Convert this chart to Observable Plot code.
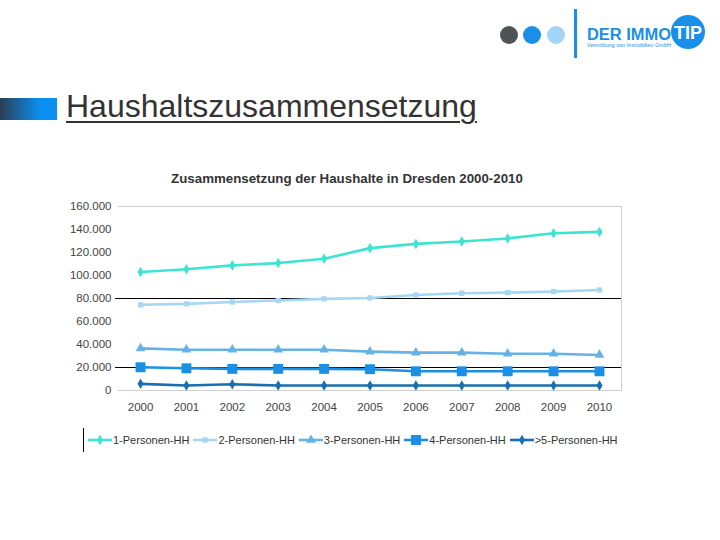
<!DOCTYPE html>
<html><head><meta charset="utf-8">
<script src="https://cdn.jsdelivr.net/npm/d3@7"></script>
<script src="https://cdn.jsdelivr.net/npm/@observablehq/plot@0.6"></script>
<style>
body{margin:0;width:720px;height:540px;position:relative;background:#fff;font-family:"Liberation Sans",Arial,sans-serif;overflow:hidden}
.abs{position:absolute}
#heading{left:66px;top:88px;font-size:32px;color:#333;text-decoration:underline;text-decoration-thickness:2px;text-underline-offset:4px;white-space:nowrap}
#bar{left:0;top:98px;width:57px;height:22px;background:linear-gradient(to right,#2b3f55,#0a8ff0 70%)}
#ctitle{left:0;width:694px;top:171px;text-align:center;font-weight:bold;font-size:13.3px;color:#333}
#chart{left:0;top:196px}
#legend{left:83px;top:428px;height:24px;border-left:1px solid #000;display:flex;align-items:center;font-size:11px;color:#333;padding-left:4px;white-space:nowrap}
#legend .it{display:flex;align-items:center;margin-right:4px}
#legend svg{margin-right:1px}
</style></head><body>
<div id="bar" class="abs"></div>
<div id="heading" class="abs">Haushaltszusammensetzung</div>
<svg class="abs" style="left:490px;top:0" width="230" height="70">
  <circle cx="19" cy="35" r="9" fill="#505355"/>
  <circle cx="42" cy="35" r="9" fill="#1a8fe8"/>
  <circle cx="66" cy="35" r="9" fill="#a3d5f7"/>
  <rect x="84" y="9" width="3" height="49" fill="#1a8fe8"/>
  <text x="97" y="40" font-family="Liberation Sans" font-weight="bold" font-size="16" fill="#1a8fe8" textLength="84" lengthAdjust="spacingAndGlyphs">DER IMMO</text>
  <text x="97" y="47" font-family="Liberation Sans" font-size="5" fill="#1a8fe8" textLength="84" lengthAdjust="spacingAndGlyphs">Vermittlung von Immobilien GmbH</text>
  <circle cx="198" cy="32" r="17" fill="#1a8fe8"/>
  <text x="198" y="39" text-anchor="middle" font-family="Liberation Sans" font-weight="bold" font-size="18" fill="#fff">TIP</text>
</svg>
<div id="ctitle" class="abs">Zusammensetzung der Haushalte in Dresden 2000-2010</div>
<div id="chart" class="abs"></div>
<div id="legend" class="abs"></div>
<script>
const years = ["2000","2001","2002","2003","2004","2005","2006","2007","2008","2009","2010"];
const seriesNames = ["1-Personen-HH","2-Personen-HH","3-Personen-HH","4-Personen-HH",">5-Personen-HH"];
const p1 = [103000,105400,108800,110800,114500,123800,127500,129600,132200,136800,137900];
const p2 = [74500,75300,77000,78200,79700,80500,83100,84600,85100,86000,87400];
const p3 = [36600,35500,35500,35500,35500,33800,32900,32900,32000,32000,30900];
const p4 = [20200,19300,18800,18800,18800,18500,16700,16700,16700,16700,16700];
const p5 = [5800,4300,5500,4300,4300,4300,4300,4300,4300,4300,4300];
const yTicks = [0,20000,40000,60000,80000,100000,120000,140000,160000];
const ruleValues = [80000,20000];

const colors = ["#3fe3d2","#a6d6f2","#66b2e6","#1b8fe6","#1a6fb0"];
const symbols = ["diamond","square","triangle","square","diamond"];
const radii = [3.2,3,3.6,5.6,3.2];
const all = [p1,p2,p3,p4,p5];
const data = [];
all.forEach((arr,s)=>arr.forEach((v,i)=>data.push({year:years[i],value:v,series:seriesNames[s],si:s})));

const de = d3.formatLocale({decimal:",",thousands:".",grouping:[3],currency:["","€"]});
const fmt = de.format(",");

const marks = [
  Plot.frame({anchor:"top",stroke:"#d0d0d0"}),
  Plot.frame({anchor:"right",stroke:"#d0d0d0"}),
  Plot.frame({anchor:"bottom",stroke:"#d0d0d0"}),
  Plot.ruleY(ruleValues,{stroke:"#000",strokeWidth:1.2,insetLeft:-3})
];
seriesNames.forEach((name,s)=>{
  const d = data.filter(r=>r.si===s);
  marks.push(Plot.line(d,{x:"year",y:"value",stroke:colors[s],strokeWidth:2.6}));
  marks.push(Plot.dot(d,{x:"year",y:"value",fill:colors[s],symbol:()=>symbols[s],r:radii[s]}));
});

const chart = Plot.plot({
  width:720,height:228,
  marginLeft:118,marginRight:99,marginTop:10,marginBottom:34,
  style:{fontFamily:"Liberation Sans, Arial, sans-serif",fontSize:"11.5px",color:"#444",background:"transparent",overflow:"visible"},
  x:{type:"point",domain:years,padding:0.48,round:false,label:null,tickSize:0,tickPadding:12},
  y:{domain:[0,160000],ticks:yTicks,tickFormat:fmt,label:null,tickSize:0,tickPadding:7},
  symbol:{type:"identity"},
  marks
});
document.getElementById("chart").appendChild(chart);

const leg = document.getElementById("legend");
seriesNames.forEach((name,s)=>{
  const it = document.createElement("div"); it.className="it";
  const w = 24;
  const sym = d3.symbol(s===2?d3.symbolTriangle:(s===0||s===4?d3.symbolDiamond:d3.symbolSquare), Math.PI*radii[s]*radii[s])();
  it.innerHTML = `<svg width="${w}" height="14"><line x1="0" x2="${w}" y1="7" y2="7" stroke="${colors[s]}" stroke-width="2.6"/><path d="${sym}" transform="translate(${w/2},7)" fill="${colors[s]}"/></svg><span>${name}</span>`;
  leg.appendChild(it);
});
</script>
</body></html>
